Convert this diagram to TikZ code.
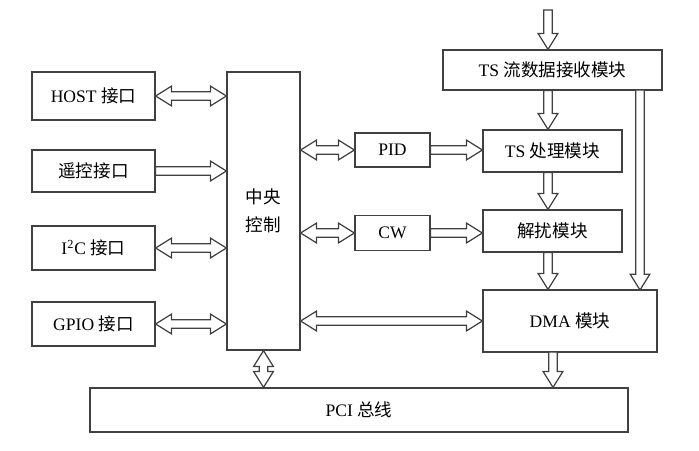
\documentclass[tikz,border=0pt]{standalone}
\usepackage{fontspec}
\setmainfont{Liberation Serif}
\newfontfamily\cjk{Noto Sans CJK SC}
\usetikzlibrary{calc}
\newcommand{\zh}[1]{{\cjk #1}}

\tikzset{
  box/.style={draw=black!75, line width=0.7pt, inner sep=0pt, font=\normalsize},
  arr/.style={draw=black!75, line width=0.7pt, fill=white, line join=miter}
}
% one-headed block arrow from #1 to #2
\newcommand{\sarr}[2]{%
  \path[arr] let \p1=#1, \p2=#2, \n1={atan2(\y2-\y1,\x2-\x1)}, \n2={veclen(\x2-\x1,\y2-\y1)} in
    [shift={(\p1)}, rotate=\n1]
    (0pt,-2.4pt) -- (\n2-9pt,-2.4pt) -- (\n2-9pt,-5.6pt) -- (\n2,0pt)
    -- (\n2-9pt,5.6pt) -- (\n2-9pt,2.4pt) -- (0pt,2.4pt) -- cycle;}
% two-headed block arrow between #1 and #2
\newcommand{\darr}[2]{%
  \path[arr] let \p1=#1, \p2=#2, \n1={atan2(\y2-\y1,\x2-\x1)}, \n2={veclen(\x2-\x1,\y2-\y1)} in
    [shift={(\p1)}, rotate=\n1]
    (0pt,0pt) -- (9pt,-5.6pt) -- (9pt,-2.4pt) -- (\n2-9pt,-2.4pt) -- (\n2-9pt,-5.6pt) -- (\n2,0pt)
    -- (\n2-9pt,5.6pt) -- (\n2-9pt,2.4pt) -- (9pt,2.4pt) -- (9pt,5.6pt) -- cycle;}

\begin{document}
\begin{tikzpicture}[x=0.02cm, y=-0.02cm]
  \useasboundingbox (0,0) rectangle (699,450);

  \node[box, minimum width=123*0.02cm, minimum height=48*0.02cm] (host) at (93.5,96) {HOST \zh{接口}};
  \node[box, minimum width=123*0.02cm, minimum height=42*0.02cm] (rc) at (93.5,171) {\zh{遥控接口}};
  \node[box, minimum width=123*0.02cm, minimum height=44*0.02cm] (iic) at (93.5,248) {I\textsuperscript{2}C \zh{接口}};
  \node[box, minimum width=123*0.02cm, minimum height=44*0.02cm] (gpio) at (93.5,324) {GPIO \zh{接口}};
  \node[box, minimum width=73*0.02cm, minimum height=278*0.02cm, align=center] (ctrl) at (263.5,211) {\zh{中央}\\[4pt]\zh{控制}};
  \node[box, minimum width=75*0.02cm, minimum height=34*0.02cm] (pid) at (392.5,150) {PID};
  \node[box, minimum width=75*0.02cm, minimum height=35*0.02cm] (cw) at (392.5,233) {CW};
  \node[box, minimum width=219*0.02cm, minimum height=40*0.02cm] (tsin) at (552.5,70) {TS \zh{流数据接收模块}};
  \node[box, minimum width=139*0.02cm, minimum height=42*0.02cm] (tsp) at (552.5,151) {TS \zh{处理模块}};
  \node[box, minimum width=139*0.02cm, minimum height=42*0.02cm] (desc) at (552.5,231) {\zh{解扰模块}};
  \node[box, minimum width=174*0.02cm, minimum height=62*0.02cm] (dma) at (570,321) {DMA \zh{模块}};
  \node[box, minimum width=538*0.02cm, minimum height=44*0.02cm] (pci) at (359,410) {PCI \zh{总线}};

  \coordinate (in) at (548,10);
  \coordinate (tsr) at (640,90);
  \coordinate (dmar) at (640,290);
  \coordinate (dmab) at (553,352);

  % interfaces to control
  \darr{(host.east)}{(host.east -| ctrl.west)}
  \sarr{(rc.east)}{(rc.east -| ctrl.west)}
  \darr{(iic.east)}{(iic.east -| ctrl.west)}
  \darr{(gpio.east)}{(gpio.east -| ctrl.west)}

  % control to right side
  \darr{(ctrl.east |- pid.west)}{(pid.west)}
  \sarr{(pid.east)}{(pid.east -| tsp.west)}
  \darr{(ctrl.east |- cw.west)}{(cw.west)}
  \sarr{(cw.east)}{(cw.east -| desc.west)}
  \darr{(ctrl.east |- dma.west)}{(dma.west)}
  \darr{(ctrl.south)}{(ctrl.south |- pci.north)}

  % data path
  \sarr{(in)}{(in |- tsin.north)}
  \sarr{(in |- tsin.south)}{(in |- tsp.north)}
  \sarr{(in |- tsp.south)}{(in |- desc.north)}
  \sarr{(in |- desc.south)}{(in |- dma.north)}
  \sarr{(tsr)}{(dmar)}
  \sarr{(dmab)}{(dmab |- pci.north)}
\end{tikzpicture}
\end{document}
